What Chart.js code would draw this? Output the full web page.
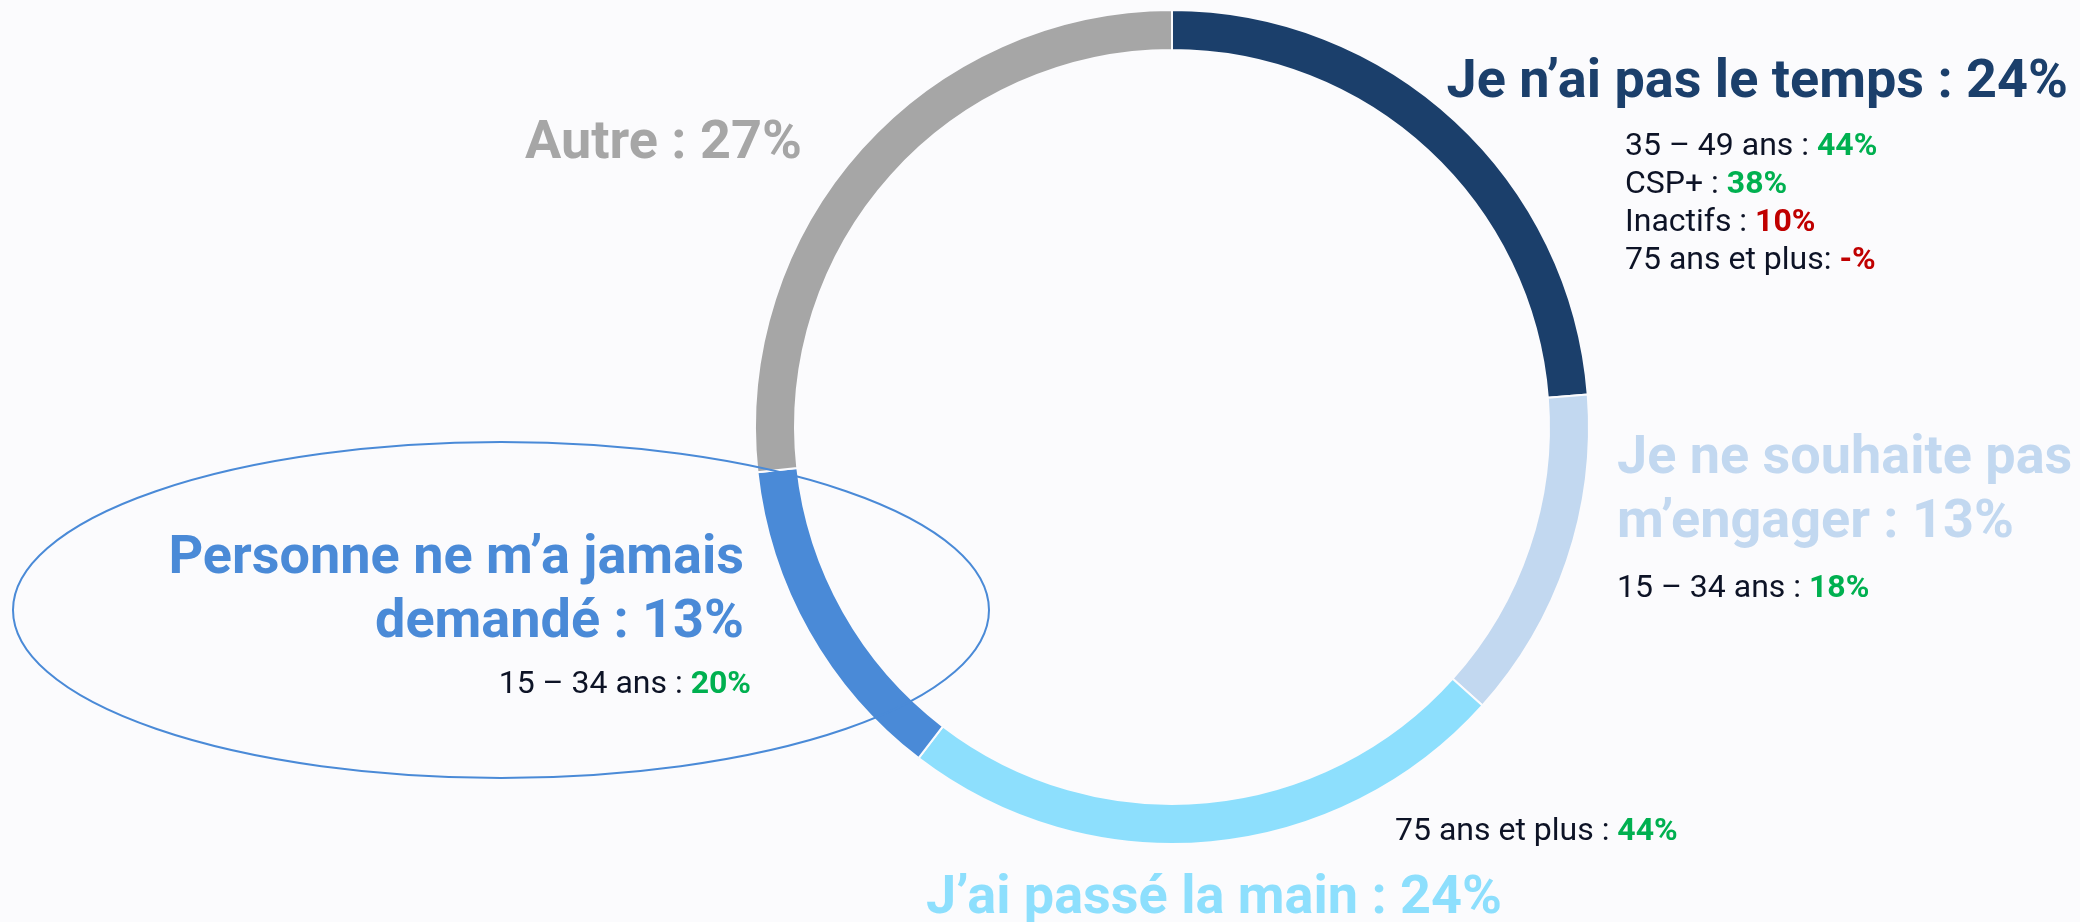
<!DOCTYPE html>
<html lang="fr">
<head>
<meta charset="utf-8">
<title>Raisons de non-engagement</title>
<script src="https://cdn.jsdelivr.net/npm/chart.js@4.4.1/dist/chart.umd.min.js"></script>
<style>
  html, body { margin: 0; padding: 0; background: #fbfbfd; }
  #wrap { width: 2080px; height: 922px; position: relative; }
</style>
</head>
<body>
<div id="wrap"><canvas id="chart" width="2080" height="922"></canvas></div>
<script>
// ─── Data ──────────────────────────────────────────────────────────────────────
const categories = [
  'Je n’ai pas le temps',
  'Je ne souhaite pas m’engager',
  'J’ai passé la main',
  'Personne ne m’a jamais demandé',
  'Autre'
];
const shares = [24, 13, 24, 13, 27];
const sliceColors = ['#1b3f6b', '#c2d8f0', '#8ddffd', '#4a8ad7', '#a6a6a6'];

// sub-population details under each label (text part, value part, over/under-represented)
const detailLabels = [
  ['35 – 49 ans : ', 'CSP+ : ', 'Inactifs : ', '75 ans et plus: '],
  ['15 – 34 ans : '],
  ['75 ans et plus : '],
  ['15 – 34 ans : '],
  []
];
const detailValues = [
  ['44%', '38%', '10%', '-%'],
  ['18%'],
  ['44%'],
  ['20%'],
  []
];
const detailUp = [
  [true, true, false, false],
  [true],
  [true],
  [true],
  []
];

// ─── Layout (positions of the annotations) ────────────────────────────────────
const TITLE_FONT = 'bold 54px Roboto';
const SUB_FONT = '32px Roboto';
const SUB_BOLD = 'bold 32px Roboto';
const TITLE_LH = 64;
const SUB_LH = 38;
const labelLayout = [
  { x: 2068, y: 97,  align: 'right', wrap: 0, subX: 1625, subY: 155, subAlign: 'left' },
  { x: 1617, y: 473, align: 'left',  wrap: 4, subX: 1617, subY: 597, subAlign: 'left' },
  { x: 926,  y: 913, align: 'left',  wrap: 0, subX: 1395, subY: 840, subAlign: 'left' },
  { x: 744,  y: 573, align: 'right', wrap: 4, subX: 751,  subY: 693, subAlign: 'right' },
  { x: 525,  y: 158, align: 'left',  wrap: 0 }
];
const highlight = { cx: 501, cy: 610, rx: 488, ry: 168, color: '#4a8ad7' };

// ─── Annotation plugin ────────────────────────────────────────────────────────
const annotations = {
  id: 'annotations',
  afterDatasetsDraw(chart) {
    const ctx = chart.ctx;
    ctx.save();

    // ellipse around "Personne ne m'a jamais demandé"
    ctx.beginPath();
    ctx.ellipse(highlight.cx, highlight.cy, highlight.rx, highlight.ry, 0, 0, Math.PI * 2);
    ctx.strokeStyle = highlight.color;
    ctx.lineWidth = 2;
    ctx.stroke();

    ctx.textBaseline = 'alphabetic';
    categories.forEach((cat, i) => {
      const L = labelLayout[i];
      const title = cat + ' : ' + shares[i] + '%';
      let lines = [title];
      if (L.wrap) {
        const words = title.split(' ');
        lines = [words.slice(0, L.wrap).join(' '), words.slice(L.wrap).join(' ')];
      }
      ctx.font = TITLE_FONT;
      ctx.fillStyle = sliceColors[i];
      ctx.textAlign = L.align;
      lines.forEach((ln, k) => ctx.fillText(ln, L.x, L.y + k * TITLE_LH));

      // details: regular label + bold coloured value
      ctx.textAlign = 'left';
      detailLabels[i].forEach((txt, k) => {
        const val = detailValues[i][k];
        ctx.font = SUB_FONT;
        const w1 = ctx.measureText(txt).width;
        ctx.font = SUB_BOLD;
        const w2 = ctx.measureText(val).width;
        const x0 = L.subAlign === 'right' ? L.subX - w1 - w2 : L.subX;
        const y = L.subY + k * SUB_LH;
        ctx.font = SUB_FONT;
        ctx.fillStyle = '#0d1326';
        ctx.fillText(txt, x0, y);
        ctx.font = SUB_BOLD;
        ctx.fillStyle = detailUp[i][k] ? '#00b050' : '#c00000';
        ctx.fillText(val, x0 + w1, y);
      });
    });
    ctx.restore();
  }
};

// ─── Chart ────────────────────────────────────────────────────────────────────
document.fonts.load(TITLE_FONT).then(() => document.fonts.load(SUB_FONT)).finally(() => {
  new Chart(document.getElementById('chart'), {
    type: 'doughnut',
    data: {
      labels: categories,
      datasets: [{
        data: shares,
        backgroundColor: sliceColors,
        borderColor: '#fbfbfd',
        borderWidth: 2
      }]
    },
    options: {
      responsive: false,
      animation: false,
      cutout: '90.4%',
      layout: { padding: { left: 754, right: 490, top: 9, bottom: 77 } },
      plugins: { legend: { display: false }, tooltip: { enabled: false } }
    },
    plugins: [annotations]
  });
});
</script>
</body>
</html>
